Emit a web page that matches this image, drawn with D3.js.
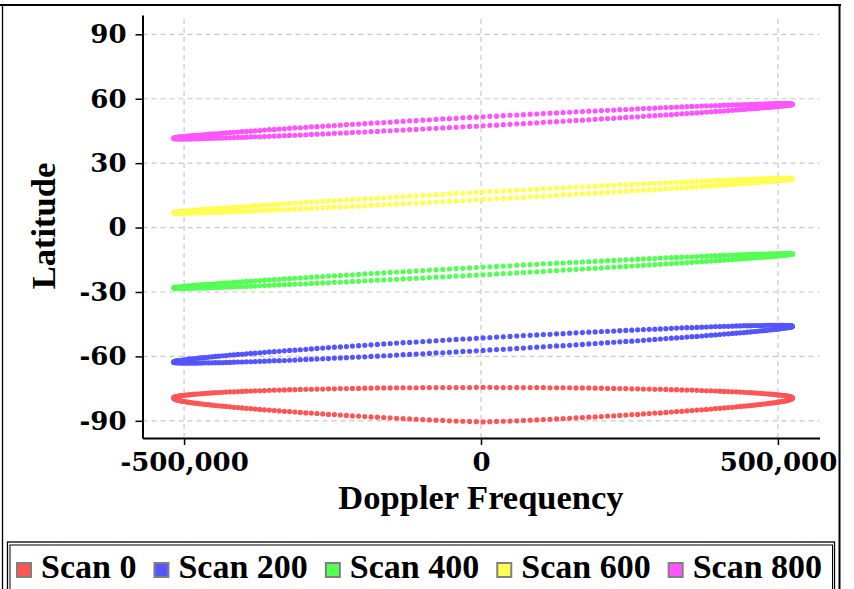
<!DOCTYPE html>
<html>
<head>
<meta charset="utf-8">
<script src="https://cdn.jsdelivr.net/npm/d3@7"></script>
<style>
  body { margin: 0; background: #ffffff; }
</style>
</head>
<body>
<div id="vis"></div>
<script>
// doppler frequency of each footprint sample, left tip to right tip (shared by both halves of every loop)
var doppler = [
  -517000,-516900,-516500,-515900,-515000,-513900,-512500,-510900,-509100,-507000,
  -504700,-502100,-499300,-496200,-492900,-489400,-485600,-481600,-477400,-472900,
  -468200,-463300,-458200,-452800,-447300,-441500,-435500,-429300,-422900,-416300,
  -409400,-402400,-395200,-387800,-380300,-372500,-364600,-356400,-348100,-339700,
  -331100,-322300,-313400,-304300,-295000,-285700,-276200,-266500,-256800,-246900,
  -236800,-226700,-216500,-206100,-195700,-185200,-174500,-163800,-153000,-142200,
  -131200,-120200,-109200,-98000,-86900,-75700,-64400,-53200,-41900,-30500,
  -19200,-7900,3500,
  14900,26200,37500,48900,60200,71400,82700,93900,105000,116200,
  127200,138200,149200,160000,170800,181500,192200,202700,213100,223500,
  233700,243800,253900,263800,273500,283200,292700,302000,311300,320400,
  329300,338100,346700,355100,363400,371600,379500,387300,394800,402200,
  409400,416400,423300,429900,436300,442500,448500,454300,459800,465200,
  470300,475200,479900,484400,488600,492600,496400,499900,503200,506300,
  509100,511700,514000,516100,517900,519500,520900,522000,522900,523500,
  523900,524000
];

// latitude along the upper and lower half of each scan loop
var scan0Upper = [
  -79.3,-79.2,-79.1,-79.0,-78.9,-78.8,-78.7,-78.6,-78.5,-78.4,
  -78.3,-78.2,-78.1,-78.0,-77.9,-77.8,-77.7,-77.6,-77.5,-77.4,
  -77.3,-77.2,-77.1,-77.0,-76.9,-76.8,-76.7,-76.6,-76.5,-76.5,
  -76.4,-76.3,-76.2,-76.1,-76.0,-76.0,-75.9,-75.8,-75.7,-75.7,
  -75.6,-75.5,-75.5,-75.4,-75.3,-75.3,-75.2,-75.2,-75.1,-75.1,
  -75.0,-75.0,-74.9,-74.9,-74.8,-74.8,-74.7,-74.7,-74.7,-74.6,
  -74.6,-74.6,-74.6,-74.5,-74.5,-74.5,-74.5,-74.5,-74.5,-74.5,
  -74.5,-74.4,-74.4,
  -74.4,-74.5,-74.5,-74.5,-74.5,-74.5,-74.5,-74.5,-74.5,-74.6,
  -74.6,-74.6,-74.6,-74.7,-74.7,-74.7,-74.8,-74.8,-74.9,-74.9,
  -75.0,-75.0,-75.1,-75.1,-75.2,-75.2,-75.3,-75.3,-75.4,-75.5,
  -75.5,-75.6,-75.7,-75.7,-75.8,-75.9,-76.0,-76.0,-76.1,-76.2,
  -76.3,-76.4,-76.5,-76.5,-76.6,-76.7,-76.8,-76.9,-77.0,-77.1,
  -77.2,-77.3,-77.4,-77.5,-77.6,-77.7,-77.8,-77.9,-78.0,-78.1,
  -78.2,-78.3,-78.4,-78.5,-78.6,-78.7,-78.8,-78.9,-79.0,-79.1,
  -79.2,-79.3
];
var scan0Lower = [
  -79.3,-79.5,-79.6,-79.8,-79.9,-80.0,-80.2,-80.3,-80.5,-80.6,
  -80.8,-80.9,-81.0,-81.2,-81.3,-81.5,-81.6,-81.8,-81.9,-82.1,
  -82.2,-82.4,-82.5,-82.7,-82.9,-83.0,-83.2,-83.3,-83.5,-83.7,
  -83.8,-84.0,-84.2,-84.3,-84.5,-84.7,-84.9,-85.0,-85.2,-85.4,
  -85.6,-85.7,-85.9,-86.1,-86.3,-86.4,-86.6,-86.8,-87.0,-87.1,
  -87.3,-87.5,-87.7,-87.8,-88.0,-88.2,-88.3,-88.5,-88.6,-88.8,
  -89.0,-89.1,-89.3,-89.4,-89.6,-89.7,-89.8,-90.0,-90.1,-90.2,
  -90.3,-90.4,-90.5,
  -90.4,-90.3,-90.2,-90.1,-90.0,-89.8,-89.7,-89.6,-89.4,-89.3,
  -89.1,-89.0,-88.8,-88.6,-88.5,-88.3,-88.2,-88.0,-87.8,-87.7,
  -87.5,-87.3,-87.1,-87.0,-86.8,-86.6,-86.4,-86.3,-86.1,-85.9,
  -85.7,-85.6,-85.4,-85.2,-85.0,-84.9,-84.7,-84.5,-84.3,-84.2,
  -84.0,-83.8,-83.7,-83.5,-83.3,-83.2,-83.0,-82.9,-82.7,-82.5,
  -82.4,-82.2,-82.1,-81.9,-81.8,-81.6,-81.5,-81.3,-81.2,-81.0,
  -80.9,-80.8,-80.6,-80.5,-80.3,-80.2,-80.0,-79.9,-79.8,-79.6,
  -79.5,-79.3
];

var scan200Upper = [
  -62.6,-62.5,-62.5,-62.4,-62.3,-62.2,-62.1,-62.1,-62.0,-61.9,
  -61.8,-61.7,-61.6,-61.5,-61.3,-61.2,-61.1,-61.0,-60.9,-60.7,
  -60.6,-60.5,-60.3,-60.2,-60.0,-59.9,-59.7,-59.6,-59.4,-59.3,
  -59.1,-59.0,-58.8,-58.6,-58.5,-58.3,-58.1,-57.9,-57.8,-57.6,
  -57.4,-57.2,-57.1,-56.9,-56.7,-56.5,-56.3,-56.1,-55.9,-55.7,
  -55.6,-55.4,-55.2,-55.0,-54.8,-54.6,-54.4,-54.2,-54.0,-53.8,
  -53.6,-53.5,-53.3,-53.1,-52.9,-52.7,-52.5,-52.3,-52.1,-51.9,
  -51.8,-51.6,-51.4,
  -51.2,-51.0,-50.9,-50.7,-50.5,-50.3,-50.2,-50.0,-49.8,-49.7,
  -49.5,-49.4,-49.2,-49.0,-48.9,-48.7,-48.6,-48.4,-48.3,-48.2,
  -48.0,-47.9,-47.8,-47.6,-47.5,-47.4,-47.3,-47.2,-47.1,-46.9,
  -46.8,-46.7,-46.6,-46.6,-46.5,-46.4,-46.3,-46.2,-46.1,-46.1,
  -46.0,-46.0,-45.9,-45.8,-45.8,-45.7,-45.7,-45.7,-45.6,-45.6,
  -45.6,-45.6,-45.5,-45.5,-45.5,-45.5,-45.5,-45.5,-45.5,-45.5,
  -45.5,-45.6,-45.6,-45.6,-45.7,-45.7,-45.7,-45.8,-45.8,-45.9,
  -45.9,-46.0
];
var scan200Lower = [
  -62.6,-62.7,-62.7,-62.8,-62.8,-62.9,-62.9,-62.9,-63.0,-63.0,
  -63.0,-63.1,-63.1,-63.1,-63.1,-63.1,-63.1,-63.1,-63.1,-63.1,
  -63.0,-63.0,-63.0,-63.0,-62.9,-62.9,-62.9,-62.8,-62.8,-62.7,
  -62.6,-62.6,-62.5,-62.5,-62.4,-62.3,-62.2,-62.1,-62.0,-62.0,
  -61.9,-61.8,-61.7,-61.5,-61.4,-61.3,-61.2,-61.1,-61.0,-60.8,
  -60.7,-60.6,-60.4,-60.3,-60.2,-60.0,-59.9,-59.7,-59.6,-59.4,
  -59.2,-59.1,-58.9,-58.8,-58.6,-58.4,-58.3,-58.1,-57.9,-57.7,
  -57.6,-57.4,-57.2,
  -57.0,-56.8,-56.7,-56.5,-56.3,-56.1,-55.9,-55.7,-55.5,-55.3,
  -55.1,-55.0,-54.8,-54.6,-54.4,-54.2,-54.0,-53.8,-53.6,-53.4,
  -53.2,-53.0,-52.9,-52.7,-52.5,-52.3,-52.1,-51.9,-51.7,-51.5,
  -51.4,-51.2,-51.0,-50.8,-50.7,-50.5,-50.3,-50.1,-50.0,-49.8,
  -49.6,-49.5,-49.3,-49.2,-49.0,-48.9,-48.7,-48.6,-48.4,-48.3,
  -48.1,-48.0,-47.9,-47.7,-47.6,-47.5,-47.4,-47.3,-47.1,-47.0,
  -46.9,-46.8,-46.7,-46.6,-46.5,-46.4,-46.4,-46.3,-46.2,-46.1,
  -46.1,-46.0
];

var scan400Upper = [
  -28.1,-28.1,-28.0,-28.0,-27.9,-27.9,-27.8,-27.7,-27.7,-27.6,
  -27.5,-27.5,-27.4,-27.3,-27.2,-27.1,-27.0,-26.9,-26.8,-26.7,
  -26.6,-26.5,-26.4,-26.3,-26.2,-26.0,-25.9,-25.8,-25.7,-25.5,
  -25.4,-25.3,-25.1,-25.0,-24.8,-24.7,-24.5,-24.4,-24.2,-24.1,
  -23.9,-23.8,-23.6,-23.5,-23.3,-23.1,-23.0,-22.8,-22.6,-22.5,
  -22.3,-22.1,-22.0,-21.8,-21.6,-21.4,-21.3,-21.1,-20.9,-20.7,
  -20.6,-20.4,-20.2,-20.0,-19.8,-19.7,-19.5,-19.3,-19.1,-19.0,
  -18.8,-18.6,-18.4,
  -18.3,-18.1,-17.9,-17.8,-17.6,-17.4,-17.3,-17.1,-16.9,-16.8,
  -16.6,-16.5,-16.3,-16.2,-16.0,-15.9,-15.7,-15.6,-15.4,-15.3,
  -15.1,-15.0,-14.9,-14.7,-14.6,-14.5,-14.4,-14.2,-14.1,-14.0,
  -13.9,-13.8,-13.7,-13.6,-13.5,-13.4,-13.3,-13.2,-13.1,-13.0,
  -12.9,-12.9,-12.8,-12.7,-12.7,-12.6,-12.5,-12.5,-12.4,-12.4,
  -12.3,-12.3,-12.3,-12.2,-12.2,-12.2,-12.2,-12.1,-12.1,-12.1,
  -12.1,-12.1,-12.1,-12.1,-12.1,-12.1,-12.2,-12.2,-12.2,-12.2,
  -12.3,-12.3
];
var scan400Lower = [
  -28.1,-28.1,-28.2,-28.2,-28.2,-28.2,-28.3,-28.3,-28.3,-28.3,
  -28.3,-28.3,-28.3,-28.3,-28.3,-28.2,-28.2,-28.2,-28.2,-28.1,
  -28.1,-28.1,-28.0,-28.0,-27.9,-27.9,-27.8,-27.7,-27.7,-27.6,
  -27.5,-27.5,-27.4,-27.3,-27.2,-27.1,-27.0,-26.9,-26.8,-26.7,
  -26.6,-26.5,-26.4,-26.3,-26.2,-26.0,-25.9,-25.8,-25.7,-25.5,
  -25.4,-25.3,-25.1,-25.0,-24.8,-24.7,-24.5,-24.4,-24.2,-24.1,
  -23.9,-23.8,-23.6,-23.5,-23.3,-23.1,-23.0,-22.8,-22.6,-22.5,
  -22.3,-22.1,-22.0,
  -21.8,-21.6,-21.4,-21.3,-21.1,-20.9,-20.7,-20.6,-20.4,-20.2,
  -20.0,-19.8,-19.7,-19.5,-19.3,-19.1,-19.0,-18.8,-18.6,-18.4,
  -18.3,-18.1,-17.9,-17.8,-17.6,-17.4,-17.3,-17.1,-16.9,-16.8,
  -16.6,-16.5,-16.3,-16.2,-16.0,-15.9,-15.7,-15.6,-15.4,-15.3,
  -15.1,-15.0,-14.9,-14.7,-14.6,-14.5,-14.4,-14.2,-14.1,-14.0,
  -13.9,-13.8,-13.7,-13.6,-13.5,-13.4,-13.3,-13.2,-13.1,-13.0,
  -12.9,-12.9,-12.8,-12.7,-12.7,-12.6,-12.5,-12.5,-12.4,-12.4,
  -12.3,-12.3
];

var scan600Upper = [
  6.9,6.9,7.0,7.0,7.1,7.1,7.2,7.3,7.3,7.4,
  7.5,7.5,7.6,7.7,7.8,7.9,8.0,8.1,8.2,8.3,
  8.4,8.5,8.6,8.7,8.8,9.0,9.1,9.2,9.3,9.5,
  9.6,9.7,9.9,10.0,10.2,10.3,10.5,10.6,10.8,10.9,
  11.1,11.2,11.4,11.5,11.7,11.9,12.0,12.2,12.4,12.5,
  12.7,12.9,13.0,13.2,13.4,13.6,13.7,13.9,14.1,14.3,
  14.4,14.6,14.8,15.0,15.2,15.3,15.5,15.7,15.9,16.0,
  16.2,16.4,16.6,
  16.7,16.9,17.1,17.2,17.4,17.6,17.7,17.9,18.1,18.2,
  18.4,18.5,18.7,18.8,19.0,19.1,19.3,19.4,19.6,19.7,
  19.9,20.0,20.1,20.3,20.4,20.5,20.6,20.8,20.9,21.0,
  21.1,21.2,21.3,21.4,21.5,21.6,21.7,21.8,21.9,22.0,
  22.1,22.1,22.2,22.3,22.3,22.4,22.5,22.5,22.6,22.6,
  22.7,22.7,22.7,22.8,22.8,22.8,22.8,22.9,22.9,22.9,
  22.9,22.9,22.9,22.9,22.9,22.9,22.8,22.8,22.8,22.8,
  22.7,22.7
];
var scan600Lower = [
  6.9,6.9,6.8,6.8,6.8,6.8,6.7,6.7,6.7,6.7,
  6.7,6.7,6.7,6.7,6.7,6.8,6.8,6.8,6.8,6.9,
  6.9,6.9,7.0,7.0,7.1,7.1,7.2,7.3,7.3,7.4,
  7.5,7.5,7.6,7.7,7.8,7.9,8.0,8.1,8.2,8.3,
  8.4,8.5,8.6,8.7,8.8,9.0,9.1,9.2,9.3,9.5,
  9.6,9.7,9.9,10.0,10.2,10.3,10.5,10.6,10.8,10.9,
  11.1,11.2,11.4,11.5,11.7,11.9,12.0,12.2,12.4,12.5,
  12.7,12.9,13.0,
  13.2,13.4,13.6,13.7,13.9,14.1,14.3,14.4,14.6,14.8,
  15.0,15.2,15.3,15.5,15.7,15.9,16.0,16.2,16.4,16.6,
  16.7,16.9,17.1,17.2,17.4,17.6,17.7,17.9,18.1,18.2,
  18.4,18.5,18.7,18.8,19.0,19.1,19.3,19.4,19.6,19.7,
  19.9,20.0,20.1,20.3,20.4,20.5,20.6,20.8,20.9,21.0,
  21.1,21.2,21.3,21.4,21.5,21.6,21.7,21.8,21.9,22.0,
  22.1,22.1,22.2,22.3,22.3,22.4,22.5,22.5,22.6,22.6,
  22.7,22.7
];

var scan800Upper = [
  41.6,41.6,41.7,41.8,41.8,41.9,41.9,42.0,42.1,42.2,
  42.2,42.3,42.4,42.5,42.6,42.7,42.8,42.9,43.0,43.1,
  43.2,43.3,43.5,43.6,43.7,43.8,44.0,44.1,44.2,44.4,
  44.5,44.7,44.8,44.9,45.1,45.2,45.4,45.6,45.7,45.9,
  46.0,46.2,46.4,46.5,46.7,46.9,47.0,47.2,47.4,47.5,
  47.7,47.9,48.1,48.2,48.4,48.6,48.8,48.9,49.1,49.3,
  49.5,49.7,49.8,50.0,50.2,50.4,50.6,50.7,50.9,51.1,
  51.3,51.4,51.6,
  51.8,51.9,52.1,52.3,52.4,52.6,52.8,52.9,53.1,53.3,
  53.4,53.6,53.7,53.9,54.0,54.2,54.3,54.5,54.6,54.7,
  54.9,55.0,55.1,55.3,55.4,55.5,55.6,55.8,55.9,56.0,
  56.1,56.2,56.3,56.4,56.5,56.6,56.7,56.7,56.8,56.9,
  57.0,57.0,57.1,57.2,57.2,57.3,57.3,57.4,57.4,57.5,
  57.5,57.5,57.6,57.6,57.6,57.6,57.7,57.7,57.7,57.7,
  57.7,57.7,57.7,57.6,57.6,57.6,57.6,57.6,57.5,57.5,
  57.4,57.4
];
var scan800Lower = [
  41.6,41.6,41.5,41.5,41.4,41.4,41.4,41.4,41.4,41.3,
  41.3,41.3,41.3,41.3,41.3,41.3,41.4,41.4,41.4,41.4,
  41.5,41.5,41.5,41.6,41.6,41.7,41.7,41.8,41.8,41.9,
  42.0,42.0,42.1,42.2,42.3,42.3,42.4,42.5,42.6,42.7,
  42.8,42.9,43.0,43.1,43.2,43.4,43.5,43.6,43.7,43.9,
  44.0,44.1,44.3,44.4,44.5,44.7,44.8,45.0,45.1,45.3,
  45.4,45.6,45.7,45.9,46.1,46.2,46.4,46.6,46.7,46.9,
  47.1,47.2,47.4,
  47.6,47.7,47.9,48.1,48.3,48.4,48.6,48.8,49.0,49.2,
  49.3,49.5,49.7,49.9,50.0,50.2,50.4,50.6,50.8,50.9,
  51.1,51.3,51.5,51.6,51.8,52.0,52.1,52.3,52.5,52.6,
  52.8,53.0,53.1,53.3,53.4,53.6,53.8,53.9,54.1,54.2,
  54.3,54.5,54.6,54.8,54.9,55.0,55.2,55.3,55.4,55.5,
  55.7,55.8,55.9,56.0,56.1,56.2,56.3,56.4,56.5,56.6,
  56.7,56.8,56.8,56.9,57.0,57.1,57.1,57.2,57.2,57.3,
  57.4,57.4
];

var scanNames = ["Scan 0", "Scan 200", "Scan 400", "Scan 600", "Scan 800"];
var scanColors = ["#ff5555", "#5555ff", "#55ff55", "#ffff55", "#ff55ff"];
var scanUpper = [scan0Upper, scan200Upper, scan400Upper, scan600Upper, scan800Upper];
var scanLower = [scan0Lower, scan200Lower, scan400Lower, scan600Lower, scan800Lower];

var latTicks = [-90, -60, -30, 0, 30, 60, 90];
var dopplerTicks = [-500000, 0, 500000];

var titleFont = '"Liberation Serif", "Times New Roman", Times, serif';
var tickFont = '"DejaVu Serif", serif';

// plain hyphen for negatives, like the original labels
var commaFmt = d3.format(",");
var fmt = d => commaFmt(d).replace("\u2212", "-");

var svg = d3.select("#vis")
  .append("svg")
    .attr("width", 854)
    .attr("height", 589)
    .style("display", "block");

// outer frame
svg.append("line").attr("x1", 0).attr("x2", 841).attr("y1", 5).attr("y2", 5)
  .attr("stroke", "#000").attr("stroke-width", 2);
svg.append("line").attr("x1", 2.5).attr("x2", 2.5).attr("y1", 5).attr("y2", 589)
  .attr("stroke", "#000").attr("stroke-width", 1.3);
svg.append("line").attr("x1", 839.5).attr("x2", 839.5).attr("y1", 4).attr("y2", 589)
  .attr("stroke", "#000").attr("stroke-width", 2);

var x = d3.scaleLinear().domain([-570000, 570000]).range([142.5, 819.5]);
var y = d3.scaleLinear().domain([-98, 99]).range([438, 15]);

// grid
var grid = svg.append("g")
  .attr("stroke", "#c8c8c8")
  .attr("stroke-width", 1.2)
  .attr("stroke-dasharray", "5,4");

grid.selectAll(".hgrid")
  .data(latTicks)
  .enter()
  .append("line")
    .attr("x1", x.range()[0])
    .attr("x2", x.range()[1])
    .attr("y1", d => y(d))
    .attr("y2", d => y(d));

grid.selectAll(".vgrid")
  .data(dopplerTicks)
  .enter()
  .append("line")
    .attr("x1", d => x(d))
    .attr("x2", d => x(d))
    .attr("y1", y.range()[0])
    .attr("y2", y.range()[1]);

// scan loops
scanNames.forEach(function (name, s) {
  var pts = doppler.map((d, i) => ({ d: d, lat: scanUpper[s][i] }))
    .concat(doppler.map((d, i) => ({ d: d, lat: scanLower[s][i] })));
  svg.append("g")
    .attr("fill", scanColors[s])
    .selectAll("circle")
    .data(pts)
    .enter()
    .append("circle")
      .attr("cx", d => x(d.d))
      .attr("cy", d => y(d.lat))
      .attr("r", 2.6);
});

// axes
var yAxis = svg.append("g")
  .attr("transform", "translate(" + x.range()[0] + ",0)")
  .call(d3.axisLeft(y).tickValues(latTicks).tickFormat(fmt).tickSize(7).tickSizeOuter(0).tickPadding(9));

var xAxis = svg.append("g")
  .attr("transform", "translate(0," + y.range()[0] + ")")
  .call(d3.axisBottom(x).tickValues(dopplerTicks).tickFormat(fmt).tickSize(7).tickSizeOuter(0).tickPadding(8));

[yAxis, xAxis].forEach(function (g) {
  g.select(".domain").attr("stroke-width", 2);
  g.selectAll(".tick line").attr("stroke-width", 1.5);
  g.selectAll(".tick text")
    .attr("fill", "#000")
    .style("font-family", tickFont)
    .style("font-weight", "bold")
    .style("font-size", "26px");
});

svg.append("text")
  .attr("x", 481)
  .attr("y", 508.5)
  .attr("text-anchor", "middle")
  .style("font-family", titleFont)
  .style("font-weight", "bold")
  .style("font-size", "34.5px")
  .text("Doppler Frequency");

svg.append("text")
  .attr("transform", "translate(55,226) rotate(-90)")
  .attr("text-anchor", "middle")
  .style("font-family", titleFont)
  .style("font-weight", "bold")
  .style("font-size", "34.5px")
  .text("Latitude");

// legend box (double border)
svg.append("rect").attr("x", 7.5).attr("y", 542).attr("width", 827).attr("height", 80)
  .attr("fill", "none").attr("stroke", "#000").attr("stroke-width", 1.3);
svg.append("rect").attr("x", 10).attr("y", 545).attr("width", 822.5).attr("height", 80)
  .attr("fill", "none").attr("stroke", "#000").attr("stroke-width", 1);

var legend = svg.append("g");
var lx = 17;
scanNames.forEach(function (name, s) {
  legend.append("rect")
    .attr("x", lx)
    .attr("y", 563)
    .attr("width", 14)
    .attr("height", 14)
    .attr("fill", scanColors[s])
    .attr("stroke", "#808080")
    .attr("stroke-width", 2);
  var t = legend.append("text")
    .attr("x", lx + 24)
    .attr("y", 577.5)
    .style("font-family", titleFont)
    .style("font-weight", "bold")
    .style("font-size", "34px")
    .text(name);
  lx = lx + 24 + t.node().getComputedTextLength() + 18;
});
</script>
</body>
</html>
